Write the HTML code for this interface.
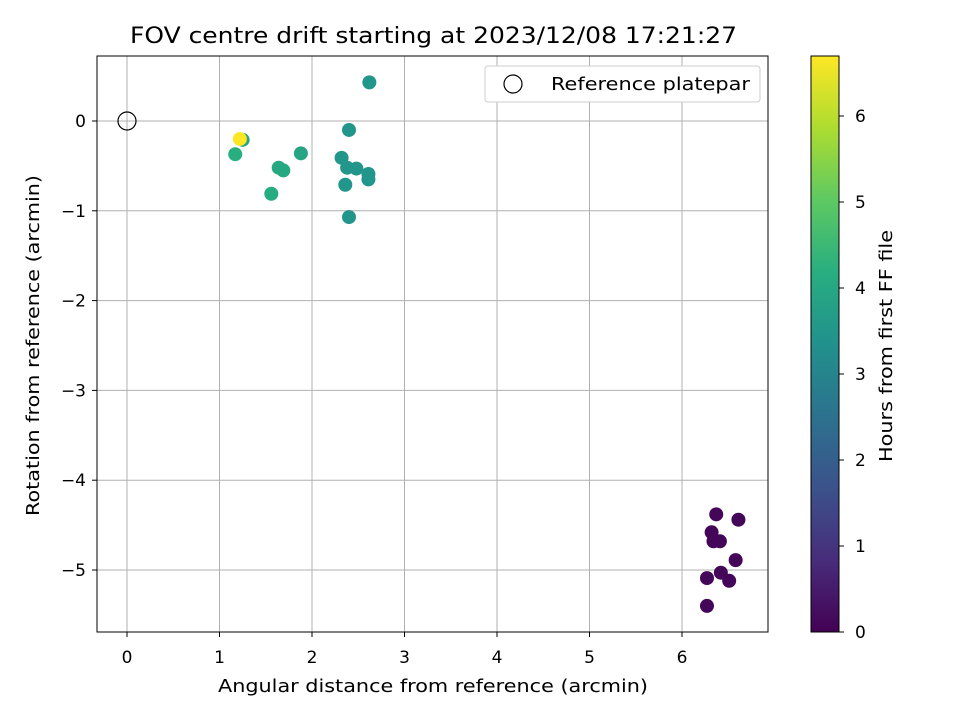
<!DOCTYPE html>
<html><head><meta charset="utf-8"><style>
body{margin:0;background:#fff;font-family:"Liberation Sans","DejaVu Sans",sans-serif}
svg text{font-family:"DejaVu Sans","Liberation Sans",sans-serif;fill:#000}
</style></head><body>
<svg id="c" width="960" height="720" xmlns="http://www.w3.org/2000/svg">
<defs><linearGradient id="vir" x1="0" y1="1" x2="0" y2="0">
<stop offset="0" stop-color="#440154"/><stop offset="0.125" stop-color="#472d7b"/><stop offset="0.25" stop-color="#3b528b"/><stop offset="0.375" stop-color="#2c728e"/><stop offset="0.5" stop-color="#21918c"/><stop offset="0.625" stop-color="#28ae80"/><stop offset="0.75" stop-color="#5ec962"/><stop offset="0.875" stop-color="#addc30"/><stop offset="1" stop-color="#fde725"/></linearGradient></defs>
<text x="130" y="43" style="font-size:22px" textLength="607" lengthAdjust="spacingAndGlyphs">FOV centre drift starting at 2023/12/08 17:21:27</text>
<g id="grid"></g><g id="pts"></g>
<rect x="97" y="56" width="671" height="576" fill="none" stroke="#000" stroke-width="1"/>
<g id="axes"></g>
<g>
<rect x="485" y="66" width="275" height="36" rx="3" fill="#fff" stroke="#ccc"/>
<circle cx="513" cy="84" r="9" fill="none" stroke="#000" stroke-width="1.2"/>
<text x="551" y="90" style="font-size:18px" textLength="199" lengthAdjust="spacingAndGlyphs">Reference platepar</text>
</g>
<text x="218" y="692" style="font-size:18px" textLength="430" lengthAdjust="spacingAndGlyphs">Angular distance from reference (arcmin)</text>
<text transform="translate(39,516) rotate(-90)" style="font-size:18px" textLength="341" lengthAdjust="spacingAndGlyphs">Rotation from reference (arcmin)</text>
<rect x="811" y="56" width="28" height="576" fill="url(#vir)" stroke="#000" stroke-width="1"/>
<g id="cb"></g>
<text transform="translate(892,462) rotate(-90)" style="font-size:18px" textLength="232" lengthAdjust="spacingAndGlyphs">Hours from first FF file</text>
</svg>
<script>
const xTicks=[0,1,2,3,4,5,6];
const yTicks=[0,-1,-2,-3,-4,-5];
const cbTicks=[0,1,2,3,4,5,6];
const xs=[1.25,1.17,1.64,1.69,1.56,1.88,2.32,2.40,2.40,2.38,2.48,2.61,2.61,2.36,2.62,6.37,6.61,6.32,6.34,6.41,6.58,6.42,6.27,6.51,6.27,1.22];
const ys=[-0.21,-0.37,-0.52,-0.55,-0.81,-0.36,-0.41,-0.10,-1.07,-0.52,-0.53,-0.59,-0.65,-0.71,0.43,-4.38,-4.44,-4.58,-4.68,-4.68,-4.89,-5.03,-5.09,-5.12,-5.40,-0.20];
const hours=[3.9,4.2,4.0,4.0,4.1,3.9,3.5,3.5,3.5,3.5,3.5,3.5,3.5,3.5,3.5,0.1,0.1,0.1,0.1,0.1,0.1,0.1,0.1,0.1,0.1,6.7];
const X=v=>127+v*92.5, Y=v=>121-v*89.8, CB=v=>632-v*86, HMAX=6.7;
const vir=["#440154","#472d7b","#3b528b","#2c728e","#21918c","#28ae80","#5ec962","#addc30","#fde725"];
function col(h){let t=Math.max(0,Math.min(1,h/HMAX))*8,i=Math.min(7,Math.floor(t)),f=t-i;
const a=vir[i],b=vir[i+1],p=(s,k)=>parseInt(s.substr(k,2),16);
let r=[1,3,5].map(k=>Math.round(p(a,k)+(p(b,k)-p(a,k))*f));return `rgb(${r})`;}
const NS="http://www.w3.org/2000/svg";
function mk(par,tag,at){const e=document.createElementNS(NS,tag);for(const k in at)e.setAttribute(k,at[k]);document.getElementById(par).appendChild(e);return e;}
xTicks.forEach(v=>{
const g=mk('grid','line',{x1:X(v),x2:X(v),y1:56,y2:632,stroke:'#b0b0b0','stroke-width':1});


mk('axes','line',{x1:X(v),x2:X(v),y1:632,y2:637,stroke:'#000'});
const t=mk('axes','text',{x:X(v),y:663,style:'font-size:17px','text-anchor':'middle'});t.textContent=v;

});
yTicks.forEach(v=>{
const g=mk('grid','line',{x1:97,x2:768,y1:Y(v),y2:Y(v),stroke:'#b0b0b0','stroke-width':1});


mk('axes','line',{x1:92,x2:97,y1:Y(v),y2:Y(v),stroke:'#000'});
const t=mk('axes','text',{x:86,y:Y(v)+6,style:'font-size:17px','text-anchor':'end'});t.textContent=v<0?'\u2212'+(-v):v;

});
cbTicks.forEach(v=>{
mk('cb','line',{x1:839,x2:844,y1:CB(v),y2:CB(v),stroke:'#000'});
const t=mk('cb','text',{x:855,y:CB(v)+6,style:'font-size:17px'});t.textContent=v;

});
const ref=mk('pts','circle',{cx:X(0),cy:Y(0),r:9,fill:'none',stroke:'#000','stroke-width':1.2});


xs.forEach((x,i)=>{const c=mk('pts','circle',{cx:X(x),cy:Y(ys[i]),r:7,fill:col(hours[i])});

});
</script>
</body></html>
